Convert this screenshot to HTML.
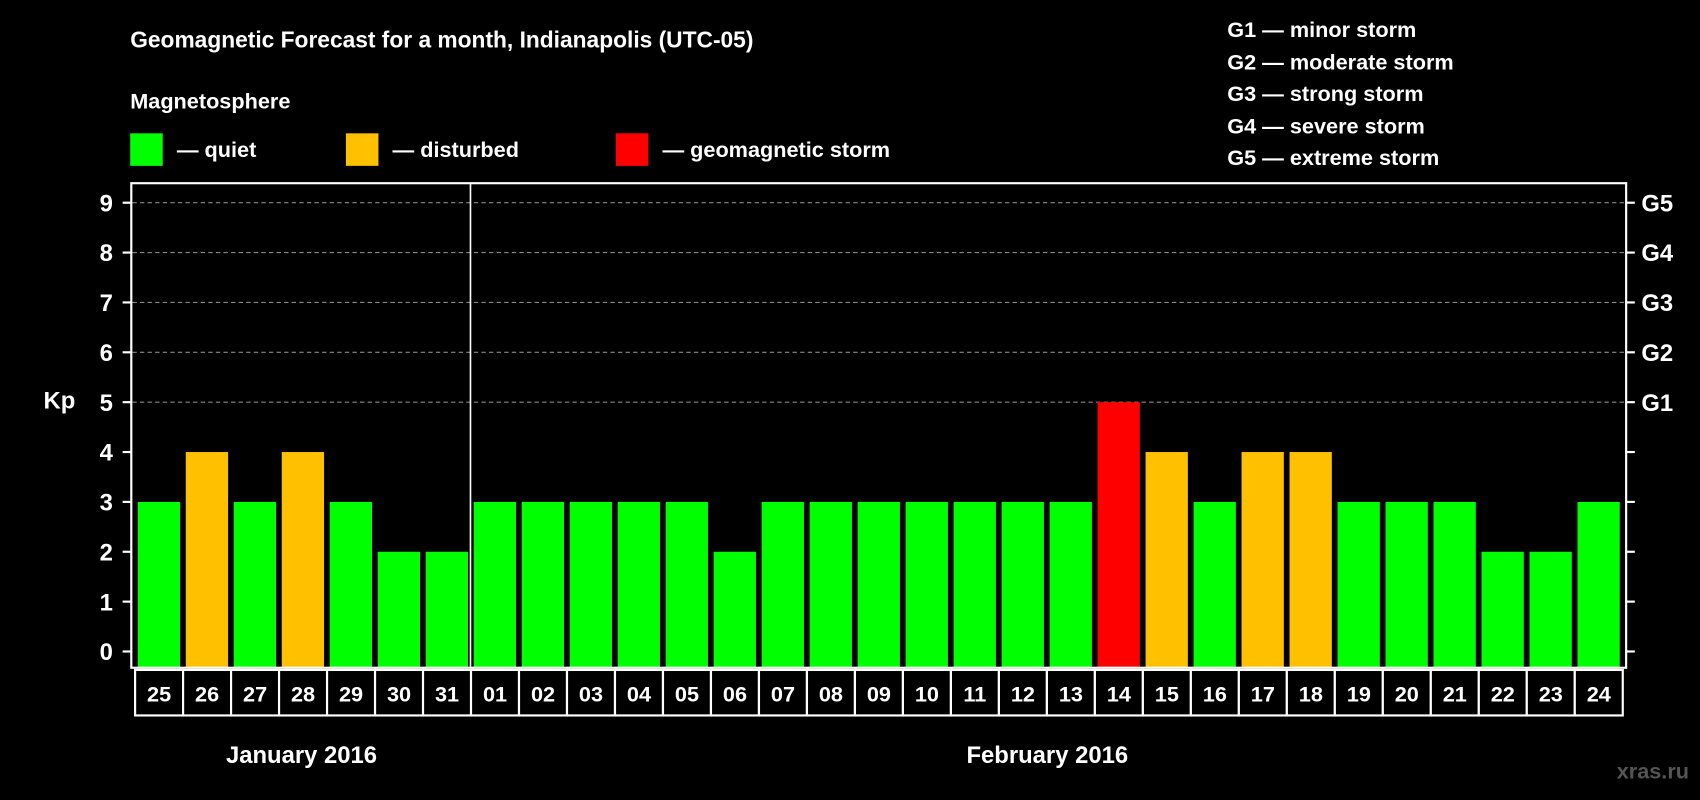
<!DOCTYPE html>
<html><head><meta charset="utf-8"><style>
html,body{margin:0;padding:0;background:#000;width:1700px;height:800px;overflow:hidden}
svg text{font-family:"Liberation Sans",Arial,sans-serif;font-weight:bold;fill:#fff}
</style></head><body>
<svg id="chart" width="1700" height="800" viewBox="0 0 1568 738" xmlns="http://www.w3.org/2000/svg">
<rect width="1568" height="738" fill="#000"/>
<text x="120" y="44" font-size="21">Geomagnetic Forecast for a month, Indianapolis (UTC-05)</text>
<text x="120" y="100" font-size="20">Magnetosphere</text>
<rect x="120" y="123" width="30" height="30" fill="#00ff00"/>
<text x="163" y="145" font-size="20">— quiet</text>
<rect x="319" y="123" width="30" height="30" fill="#ffc000"/>
<text x="362" y="145" font-size="20">— disturbed</text>
<rect x="568" y="123" width="30" height="30" fill="#ff0000"/>
<text x="611" y="145" font-size="20">— geomagnetic storm</text>
<g font-size="20">
<text x="1132" y="34">G1 — minor storm</text>
<text x="1132" y="64">G2 — moderate storm</text>
<text x="1132" y="93">G3 — strong storm</text>
<text x="1132" y="123">G4 — severe storm</text>
<text x="1132" y="152">G5 — extreme storm</text>
</g>
<text x="40" y="377" font-size="22">Kp</text>
<g id="grid"></g>
<g id="bars"></g>
<rect x="121" y="169" width="1379" height="447" fill="none" stroke="#fff" stroke-width="2"/>
<g id="axes"></g>
<g id="dates"></g>
<text x="278" y="704" font-size="22" text-anchor="middle">January 2016</text>
<text x="966" y="704" font-size="22" text-anchor="middle">February 2016</text>
<text x="1558" y="718" font-size="20" text-anchor="end" style="fill:#555">xras.ru</text>
</svg>
<script>
const days=["25","26","27","28","29","30","31","01","02","03","04","05","06","07","08","09","10","11","12","13","14","15","16","17","18","19","20","21","22","23","24"];
const kpValues=[3,4,3,4,3,2,2,3,3,3,3,3,2,3,3,3,3,3,3,3,5,4,3,4,4,3,3,3,2,2,3];
const yTicks=[0,1,2,3,4,5,6,7,8,9];
const gLabels=["G1","G2","G3","G4","G5"];
const NS="http://www.w3.org/2000/svg";
const y=v=>601-46*v;
const slot=44.27, x0=124.5;
const xs=i=>x0+i*slot;
function mk(t,a,p){const e=document.createElementNS(NS,t);for(const k in a)e.setAttribute(k,a[k]);p.appendChild(e);return e;}
const grid=document.getElementById('grid'),bars=document.getElementById('bars'),axes=document.getElementById('axes'),dates=document.getElementById('dates');
yTicks.forEach(v=>{
  if(v>=5){const l=mk('line',{x1:122,x2:1499,y1:y(v),y2:y(v),stroke:'#888','stroke-dasharray':'4,3','stroke-width':1},grid);
  
  }
  const t1=mk('line',{x1:113,x2:121,y1:y(v),y2:y(v),stroke:'#fff','stroke-width':2},axes);
  
  
  const t2=mk('line',{x1:1500,x2:1508,y1:y(v),y2:y(v),stroke:'#fff','stroke-width':2},axes);
  
  
  const tx=mk('text',{x:104,y:y(v)+8,'font-size':22,'text-anchor':'end'},axes);tx.textContent=v;
  
  
  if(v>=5){const g=mk('text',{x:1514,y:y(v)+8,'font-size':22},axes);g.textContent=gLabels[v-5];
  
  }
});
const col=v=>v>=5?'#ff0000':(v==4?'#ffc000':'#00ff00');
kpValues.forEach((v,i)=>{
  const b=mk('rect',{x:xs(i)+2.5,y:y(v),width:39,height:616-y(v),fill:col(v)},bars);
  
  
  const c=mk('rect',{x:xs(i),y:618,width:slot,height:42,fill:'#000',stroke:'#fff','stroke-width':2},dates);
  
  
  const t=mk('text',{x:xs(i)+slot/2,y:647,'font-size':20,'text-anchor':'middle'},dates);t.textContent=days[i];
  
  
});
const sep=mk('line',{x1:xs(7)-0.5,x2:xs(7)-0.5,y1:169,y2:616,stroke:'#fff','stroke-width':1.5},axes);


</script>
</body></html>
